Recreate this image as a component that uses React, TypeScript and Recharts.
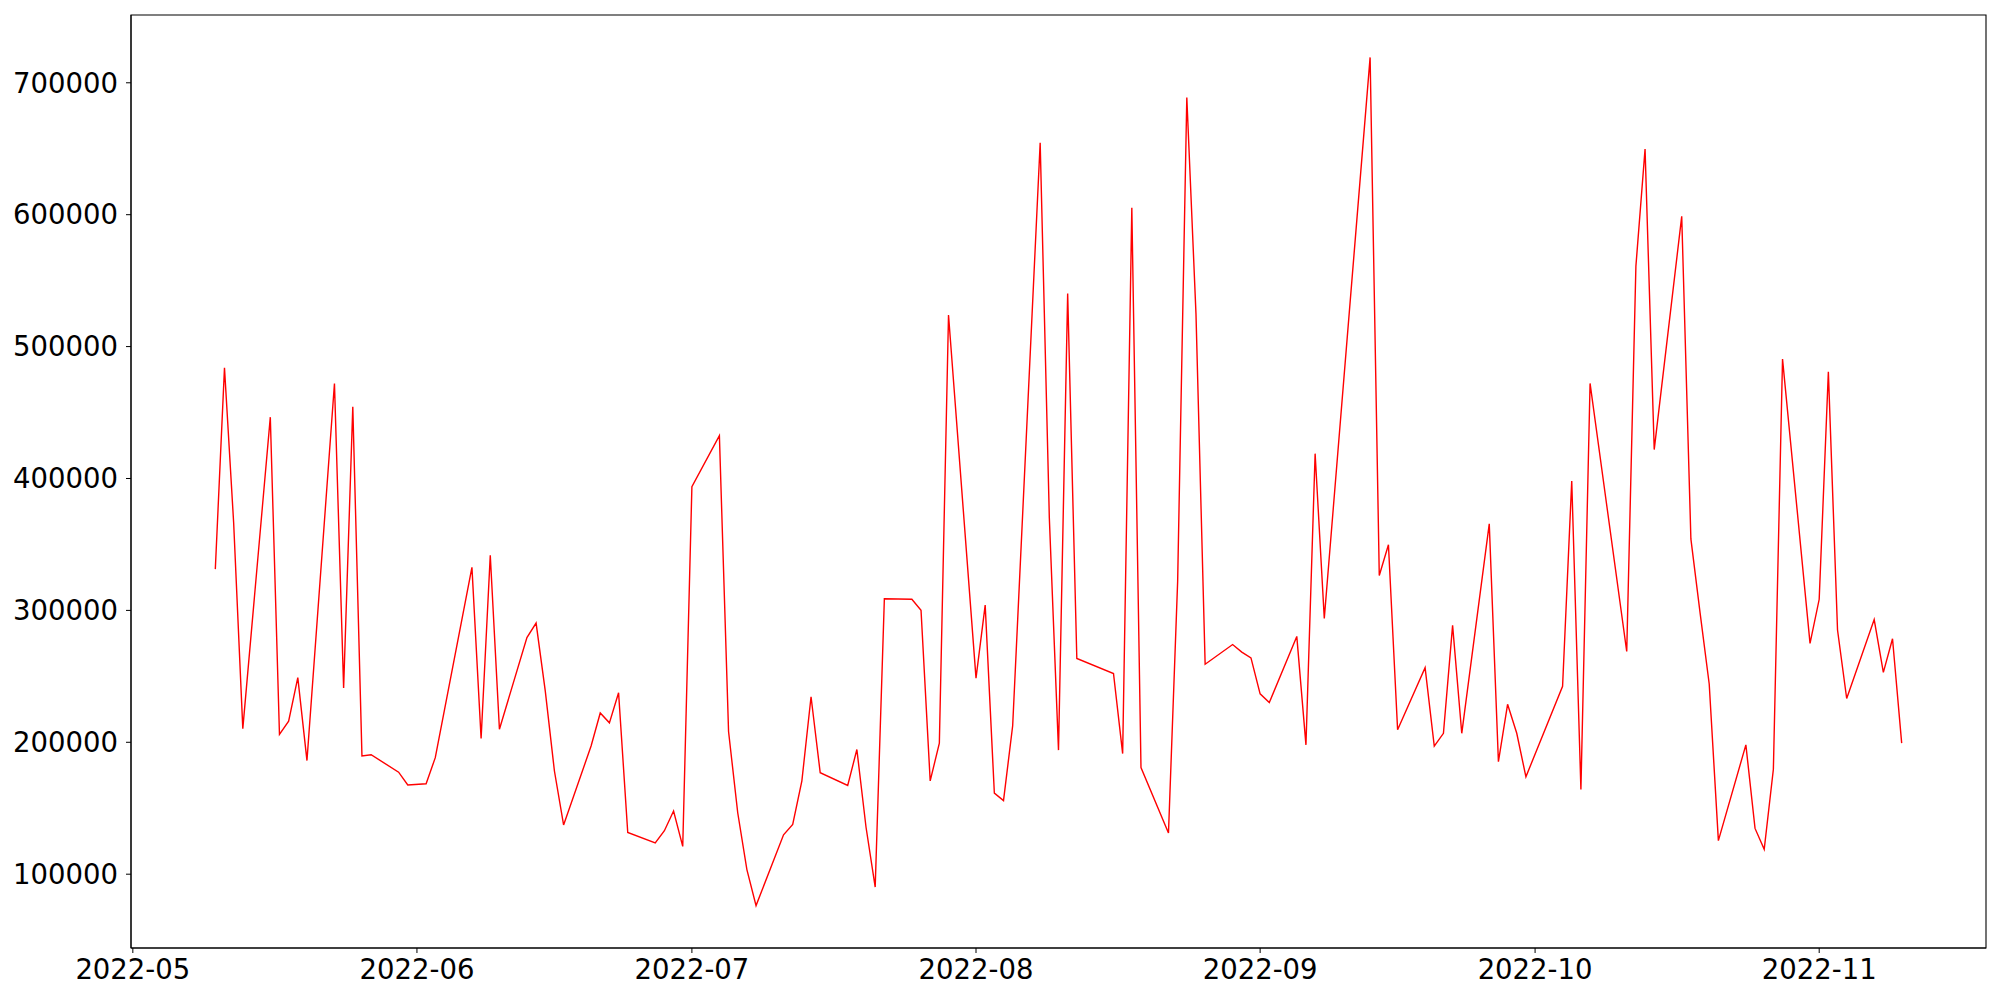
import { LineChart, Line, XAxis, YAxis, ReferenceArea } from "recharts"

const dates = [
  "2022-05-10", "2022-05-11", "2022-05-12", "2022-05-13", "2022-05-16", "2022-05-17", "2022-05-18", "2022-05-19",
  "2022-05-20", "2022-05-23", "2022-05-24", "2022-05-25", "2022-05-26", "2022-05-27", "2022-05-30", "2022-05-31",
  "2022-06-02", "2022-06-03", "2022-06-07", "2022-06-08", "2022-06-09", "2022-06-10", "2022-06-13", "2022-06-14",
  "2022-06-15", "2022-06-16", "2022-06-17", "2022-06-20", "2022-06-21", "2022-06-22", "2022-06-23", "2022-06-24",
  "2022-06-27", "2022-06-28", "2022-06-29", "2022-06-30", "2022-07-01", "2022-07-04", "2022-07-05", "2022-07-06",
  "2022-07-07", "2022-07-08", "2022-07-11", "2022-07-12", "2022-07-13", "2022-07-14", "2022-07-15", "2022-07-18",
  "2022-07-19", "2022-07-20", "2022-07-21", "2022-07-22", "2022-07-25", "2022-07-26", "2022-07-27", "2022-07-28",
  "2022-07-29", "2022-08-01", "2022-08-02", "2022-08-03", "2022-08-04", "2022-08-05", "2022-08-08", "2022-08-09",
  "2022-08-10", "2022-08-11", "2022-08-12", "2022-08-16", "2022-08-17", "2022-08-18", "2022-08-19", "2022-08-22",
  "2022-08-23", "2022-08-24", "2022-08-25", "2022-08-26", "2022-08-29", "2022-08-30", "2022-08-31", "2022-09-01",
  "2022-09-02", "2022-09-05", "2022-09-06", "2022-09-07", "2022-09-08", "2022-09-13", "2022-09-14", "2022-09-15",
  "2022-09-16", "2022-09-19", "2022-09-20", "2022-09-21", "2022-09-22", "2022-09-23", "2022-09-26", "2022-09-27",
  "2022-09-28", "2022-09-29", "2022-09-30", "2022-10-04", "2022-10-05", "2022-10-06", "2022-10-07", "2022-10-11",
  "2022-10-12", "2022-10-13", "2022-10-14", "2022-10-17", "2022-10-18", "2022-10-19", "2022-10-20", "2022-10-21",
  "2022-10-24", "2022-10-25", "2022-10-26", "2022-10-27", "2022-10-28", "2022-10-31", "2022-11-01", "2022-11-02",
  "2022-11-03", "2022-11-04", "2022-11-07", "2022-11-08", "2022-11-09", "2022-11-10",
]

const values = [
  331300, 483900, 366500, 210350, 446500, 205950, 216070, 249060,
  186160, 472050, 241140, 454460, 189680, 190560, 177360, 167690,
  168560, 188360, 332600, 202870, 341860, 209910, 279400, 290400,
  238940, 178240, 137340, 197150, 222220, 214750, 237620, 131620,
  123700, 132940, 147890, 121060, 393760, 432470, 208150, 146570,
  103470, 76200, 129860, 137780, 170760, 234540, 176920, 167250,
  194520, 135580, 90270, 308870, 308430, 300080, 170760, 199350,
  523960, 248620, 304040, 161530, 155810, 212550, 654590, 370000,
  194080, 540230, 263570, 252130, 191440, 605330, 180880, 131180,
  322000, 688900, 525000, 259170, 274130, 268410, 264010, 236740,
  230140, 280280, 198030, 418830, 293920, 719240, 326470, 349780,
  209470, 256530, 197150, 206830, 288640, 206830, 365610, 185280,
  228820, 206830, 173840, 242460, 398160, 164170, 472050, 268850,
  560900, 649750, 421910, 598730, 354180, 298300, 244220, 125460,
  198030, 134700, 118860, 179560, 490530, 274990, 308430, 480850,
  285120, 233220, 293040, 253010, 278530, 199350,
]

const monthTicks = ["2022-05-01", "2022-06-01", "2022-07-01", "2022-08-01", "2022-09-01", "2022-10-01", "2022-11-01"]
const yTicks = [100000, 200000, 300000, 400000, 500000, 600000, 700000]

const toTime = (s: string) => {
  const [y, m, d] = s.split("-").map(Number)
  return Date.UTC(y, m - 1, d)
}

const data = dates.map((d, i) => ({ t: toTime(d), value: values[i] }))

// matplotlib-style 5% margins
const tMin = data[0].t
const tMax = data[data.length - 1].t
const tPad = (tMax - tMin) * 0.05
const vMin = Math.min(...values)
const vMax = Math.max(...values)
const vPad = (vMax - vMin) * 0.05
const xDomain = [tMin - tPad, tMax + tPad]
const yDomain = [vMin - vPad, vMax + vPad]

const fmtMonth = (t: number) => {
  const d = new Date(t)
  return `${d.getUTCFullYear()}-${String(d.getUTCMonth() + 1).padStart(2, "0")}`
}

const tickStyle = { fill: "#000", fontSize: 27.5, fontFamily: "DejaVu Sans" }

export default function App() {
  return (
    <div style={{ position: "absolute", left: 0, top: 0, width: 2000, height: 1000, background: "#fff" }}>
      <LineChart width={2000} height={1000} data={data} margin={{ top: 15, right: 14, left: 0, bottom: 0 }}>
        <XAxis
          dataKey="t"
          type="number"
          domain={xDomain}
          allowDataOverflow
          ticks={monthTicks.map(toTime)}
          tickFormatter={fmtMonth}
          tick={tickStyle}
          tickSize={5}
          tickMargin={6}
          stroke="#000"
          height={52}
        />
        <YAxis
          type="number"
          domain={yDomain}
          allowDataOverflow
          ticks={yTicks}
          tick={tickStyle}
          tickSize={5}
          tickMargin={8}
          stroke="#000"
          width={131}
        />
        {/* frame around the plot area */}
        <ReferenceArea
          x1={xDomain[0]}
          x2={xDomain[1]}
          y1={yDomain[0]}
          y2={yDomain[1]}
          fill="none"
          stroke="#000"
          strokeWidth={1.1}
          ifOverflow="visible"
        />
        <Line
          type="linear"
          dataKey="value"
          stroke="#ff0000"
          strokeWidth={1.4}
          dot={false}
          isAnimationActive={false}
        />
      </LineChart>
    </div>
  )
}
